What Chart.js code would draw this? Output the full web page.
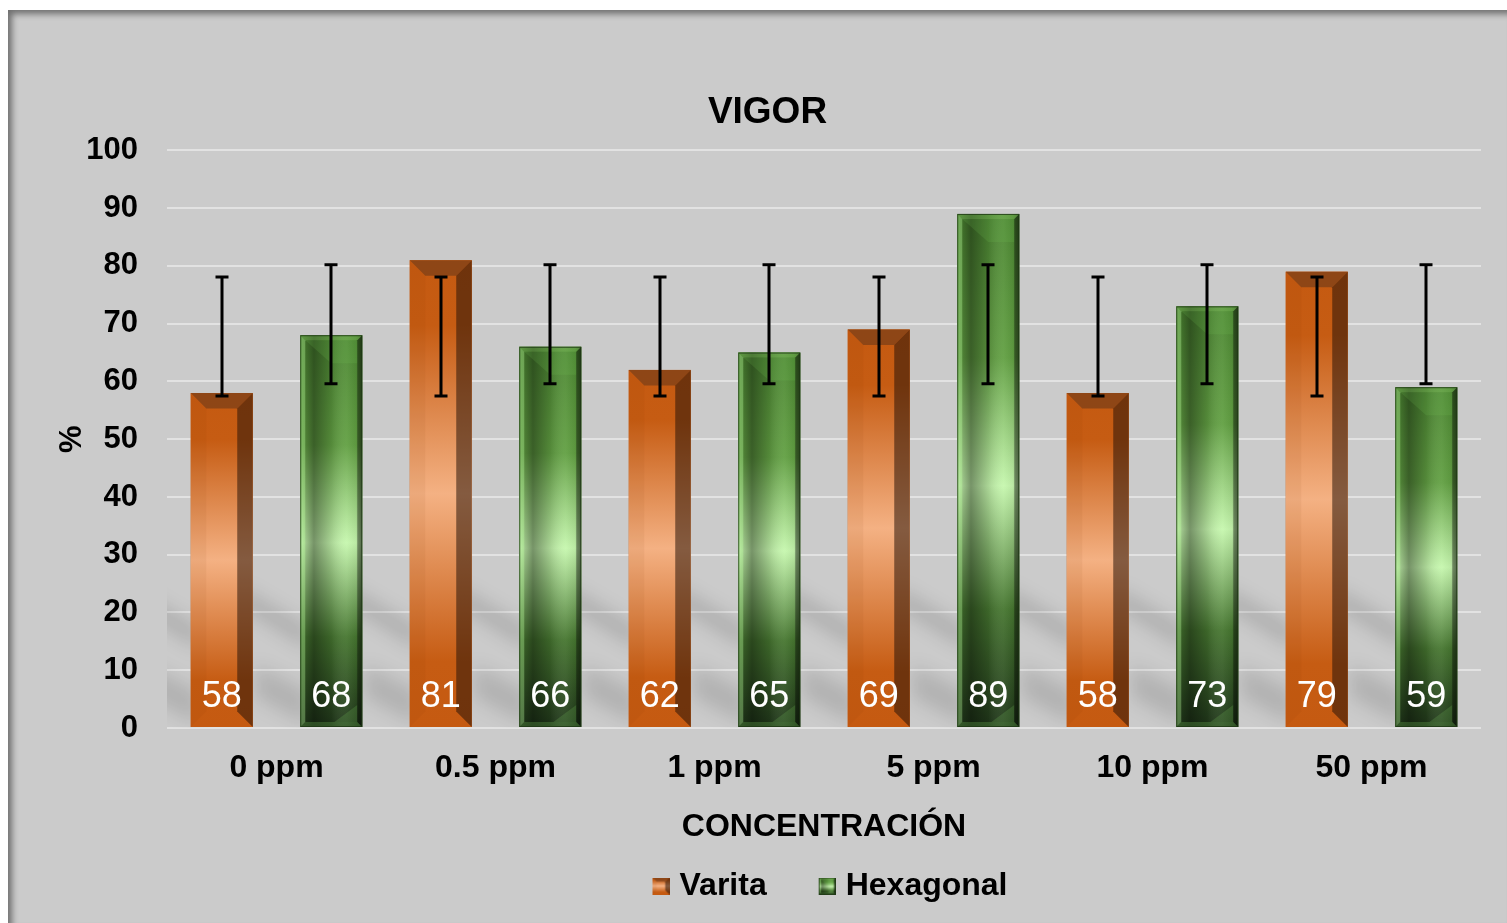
<!DOCTYPE html>
<html>
<head>
<meta charset="utf-8">
<title>VIGOR</title>
<script src="https://cdn.jsdelivr.net/npm/chart.js@4.4.0/dist/chart.umd.min.js"></script>
<style>
  html, body { margin: 0; padding: 0; background: #fff; }
  #frame {
    position: absolute; left: 8px; top: 10px; width: 1499px; height: 913px;
    background: #cbcbcb;
    box-shadow: inset 5px 5px 6px -1px rgba(0, 0, 0, 0.45);
  }
  canvas { display: block; }
</style>
</head>
<body>
<div id="frame"><canvas id="vigor"></canvas></div>
<script>
// data
const categories = ['0 ppm', '0.5 ppm', '1 ppm', '5 ppm', '10 ppm', '50 ppm'];
const varita = [58, 81, 62, 69, 58, 79];
const hexagonal = [68, 66, 65, 89, 73, 59];
// error bars (same range for every bar of a series)
const varitaErrLow = [57.5, 57.5, 57.5, 57.5, 57.5, 57.5];
const varitaErrHigh = [78.1, 78.1, 78.1, 78.1, 78.1, 78.1];
const hexErrLow = [59.6, 59.6, 59.6, 59.6, 59.6, 59.6];
const hexErrHigh = [80.2, 80.2, 80.2, 80.2, 80.2, 80.2];
const yMin = 0, yMax = 100, yStep = 10;

const FONT = 'Arial, "Liberation Sans", sans-serif';
Chart.defaults.font.family = FONT;
Chart.defaults.color = '#000';

function poly(ctx, pts, fill) {
  ctx.fillStyle = fill;
  ctx.beginPath();
  ctx.moveTo(pts[0][0], pts[0][1]);
  for (let i = 1; i < pts.length; i++) ctx.lineTo(pts[i][0], pts[i][1]);
  ctx.closePath();
  ctx.fill();
}

function shadeVarita(ctx, l, t, w, b) {
  const r = l + w, e = Math.min(w * 0.25, (b - t) / 2);
  const g = ctx.createLinearGradient(0, t, 0, b);
  g.addColorStop(0, '#c55a11');
  g.addColorStop(0.14, '#c65c13');
  g.addColorStop(0.5, '#f4b183');
  g.addColorStop(0.86, '#c65c13');
  g.addColorStop(1, '#c55a11');
  ctx.fillStyle = g;
  ctx.fillRect(l, t, w, b - t);
  // left face
  poly(ctx, [[l, t], [l + e, t + e], [l + e, b - e], [l, b]], 'rgba(120,50,0,0.06)');
  // right face
  poly(ctx, [[r - e, t + e], [r, t], [r, b], [r - e, b - e]], 'rgba(40,20,10,0.55)');
  // top bevel
  poly(ctx, [[l, t], [r, t], [r - e, t + e], [l + e, t + e]], 'rgba(60,40,30,0.4)');
}

function shadeHex(ctx, l, t, w, b) {
  const r = l + w, e = Math.min(5, w * 0.12);
  const g = ctx.createLinearGradient(0, t, 0, b);
  g.addColorStop(0, '#4c8632');
  g.addColorStop(0.28, '#62a043');
  g.addColorStop(0.53, '#c6f7ae');
  g.addColorStop(0.77, '#467630');
  g.addColorStop(1, '#20371a');
  ctx.fillStyle = g;
  ctx.fillRect(l, t, w, b - t);
  const h = ctx.createLinearGradient(l, 0, r, 0);
  h.addColorStop(0, 'rgba(0,0,0,0.05)');
  h.addColorStop(0.22, 'rgba(0,0,0,0.4)');
  h.addColorStop(0.5, 'rgba(0,0,0,0.14)');
  h.addColorStop(0.75, 'rgba(255,255,255,0.05)');
  h.addColorStop(0.9, 'rgba(0,0,0,0.05)');
  h.addColorStop(1, 'rgba(0,0,0,0.35)');
  ctx.fillStyle = h;
  ctx.fillRect(l, t, w, b - t);
  const tb = Math.min(28, (b - t) * 0.45);
  // top bevel: lighter right part cut by a diagonal
  poly(ctx, [[l + e, t + e], [r - e, t + e], [r - e, t + tb], [l + w * 0.5, t + tb]], 'rgba(120,200,85,0.16)');
  // bottom bevel
  poly(ctx, [[l + w * 0.55, b - e], [r - e, b - Math.min(22, tb)], [r - e, b - e]], 'rgba(120,190,90,0.22)');
  // thin edges
  poly(ctx, [[l, t], [l + e, t + e], [l + e, b - e], [l, b]], 'rgba(190,255,160,0.35)');
  poly(ctx, [[r - e, t + e], [r, t], [r, b], [r - e, b - e]], 'rgba(0,0,0,0.35)');
  poly(ctx, [[l, t], [r, t], [r - e, t + e], [l + e, t + e]], 'rgba(150,220,110,0.3)');
  poly(ctx, [[l, b], [r, b], [r - e, b - e], [l + e, b - e]], 'rgba(120,200,90,0.25)');
  ctx.strokeStyle = 'rgba(30,55,20,0.8)';
  ctx.lineWidth = 1;
  ctx.strokeRect(l + 0.5, t + 0.5, w - 1, b - t - 1);
}

const shaders = [shadeVarita, shadeHex];
const errLow = [varitaErrLow, hexErrLow];
const errHigh = [varitaErrHigh, hexErrHigh];

// legend icon: square drawn near the right end of a transparent canvas
function makeIcon(shader) {
  const c = document.createElement('canvas');
  c.width = 35; c.height = 17;
  shader(c.getContext('2d'), 18, 0, 17, 17);
  return c;
}
const legendIcons = [makeIcon(shadeVarita), makeIcon(shadeHex)];

const barLook = {
  id: 'barLook',
  beforeDatasetsDraw(chart) {
    const {ctx, chartArea: a} = chart;
    ctx.save();
    ctx.beginPath();
    ctx.rect(a.left, a.top, a.right - a.left, a.bottom - a.top);
    ctx.clip();
    ctx.filter = 'blur(9px)';
    chart.data.datasets.forEach((ds, di) => {
      chart.getDatasetMeta(di).data.forEach(bar => {
        const {x, width, base} = bar.getProps(['x', 'width', 'base'], true);
        const l = x - width / 2;
        poly(ctx, [[l + 8, base - 78], [l - 60, base - 120], [l - 60, base - 140], [l + 8, base - 100]], 'rgba(0,0,0,0.14)');
        poly(ctx, [[l + 8, base - 2], [l - 45, base - 30], [l - 45, base - 62], [l + 8, base - 36]], 'rgba(0,0,0,0.12)');
      });
    });
    ctx.restore();
  },
  afterDatasetsDraw(chart) {
    const {ctx} = chart;
    const yScale = chart.scales.y;
    ctx.save();
    chart.data.datasets.forEach((ds, di) => {
      chart.getDatasetMeta(di).data.forEach(bar => {
        const {x, y, width, base} = bar.getProps(['x', 'y', 'width', 'base'], true);
        shaders[di](ctx, x - width / 2, y, width, base);
      });
    });
    // error bars
    ctx.strokeStyle = '#000';
    ctx.lineWidth = 3;
    chart.data.datasets.forEach((ds, di) => {
      chart.getDatasetMeta(di).data.forEach((bar, i) => {
        const x = Math.round(bar.x);
        const y1 = yScale.getPixelForValue(errLow[di][i]);
        const y2 = yScale.getPixelForValue(errHigh[di][i]);
        ctx.beginPath();
        ctx.moveTo(x, y1); ctx.lineTo(x, y2);
        ctx.moveTo(x - 6.5, y1); ctx.lineTo(x + 6.5, y1);
        ctx.moveTo(x - 6.5, y2); ctx.lineTo(x + 6.5, y2);
        ctx.stroke();
      });
    });
    // value labels
    ctx.fillStyle = '#fff';
    ctx.font = '36px ' + FONT;
    ctx.textAlign = 'center';
    ctx.textBaseline = 'middle';
    chart.data.datasets.forEach((ds, di) => {
      chart.getDatasetMeta(di).data.forEach((bar, i) => {
        ctx.fillText(String(ds.data[i]), bar.x, bar.base - 30);
      });
    });
    ctx.restore();
  }
};

new Chart(document.getElementById('vigor'), {
  type: 'bar',
  data: {
    labels: categories,
    datasets: [
      { label: 'Varita', data: varita, backgroundColor: '#c55a11' },
      { label: 'Hexagonal', data: hexagonal, backgroundColor: '#4f8a35' }
    ]
  },
  options: {
    responsive: true,
    maintainAspectRatio: false,
    animation: false,
    categoryPercentage: 1,
    barPercentage: 0.566,
    layout: { padding: { left: 46, right: 26, top: 0, bottom: 11 } },
    scales: {
      x: {
        grid: { display: false, drawTicks: false },
        border: { display: false },
        ticks: { padding: 21, color: '#000', font: { size: 32, weight: 'bold' } },
        title: {
          display: true, text: 'CONCENTRACIÓN', color: '#000',
          font: { size: 32, weight: 'bold' }, padding: { top: 0, bottom: -16 }
        },
        afterFit(scale) { scale.height = 102; }
      },
      y: {
        min: yMin, max: yMax,
        ticks: { stepSize: yStep, padding: 29, color: '#000', font: { size: 31, weight: 'bold' } },
        grid: { color: '#e2e2e2', lineWidth: 2, drawTicks: false },
        border: { display: false },
        title: { display: true, text: '%', color: '#000', font: { size: 31, weight: 'bold' }, padding: 0 },
        afterFit(scale) { scale.width = 113; }
      }
    },
    plugins: {
      title: {
        display: true, text: 'VIGOR', color: '#000',
        font: { size: 37, weight: 'bold' }, padding: { top: 81, bottom: 15 }
      },
      legend: {
        position: 'bottom',
        fullSize: false,
        labels: {
          usePointStyle: true,
          pointStyleWidth: 23,
          boxHeight: 17,
          padding: 40,
          color: '#000',
          font: { size: 32, weight: 'bold' },
          generateLabels(chart) {
            const items = Chart.defaults.plugins.legend.labels.generateLabels(chart);
            items.forEach((it, i) => { it.pointStyle = legendIcons[i]; });
            return items;
          }
        }
      },
      tooltip: { enabled: false }
    }
  },
  plugins: [barLook]
});
</script>
</body>
</html>
